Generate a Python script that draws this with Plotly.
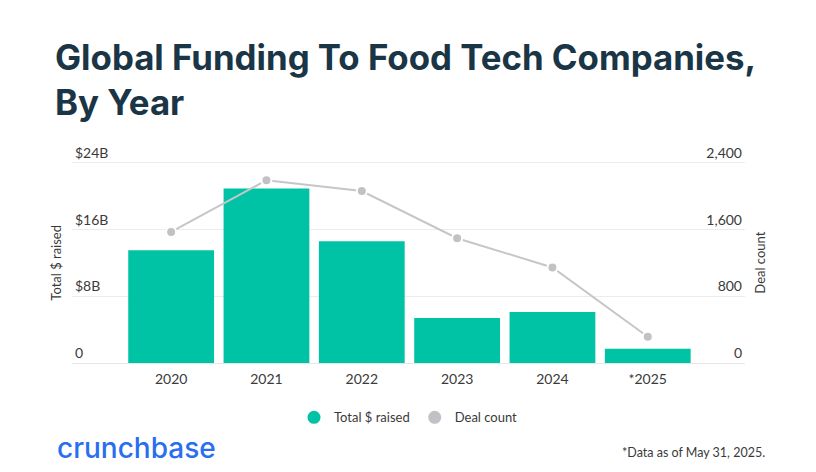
import plotly.graph_objects as go

years = ["2020", "2021", "2022", "2023", "2024", "*2025"]
raised_b = [13.5, 20.9, 14.6, 5.4, 6.1, 1.7]
deal_count = [1570, 2190, 2060, 1495, 1145, 315]

teal = "#00c3a5"
grey = "#c0c2c5"
navy = "#1a3545"
text_grey = "#3a3a3a"
tick_font = dict(family="Lato", size=14, color=text_grey)

# the page body has an 8px margin, so the figure is drawn 8px smaller
W, H = 808, 464
fig = go.Figure()
fig.add_trace(go.Bar(
    x=years, y=raised_b, name="Total $ raised", showlegend=False,
    marker=dict(color=teal, line=dict(width=0)),
    hovertemplate="%{x}: $%{y}B<extra></extra>",
))
fig.add_trace(go.Scatter(
    x=years, y=deal_count, name="Deal count", yaxis="y2", showlegend=False,
    mode="lines+markers",
    line=dict(color="#c6c6c6", width=2),
    marker=dict(color=grey, size=10, line=dict(color="white", width=2)),
))
# legend entries drawn as round dots
fig.add_trace(go.Scatter(
    x=[None], y=[None], name="Total $ raised", mode="markers",
    marker=dict(color=teal, size=13),
))
fig.add_trace(go.Scatter(
    x=[None], y=[None], name="Deal count", mode="markers",
    marker=dict(color=grey, size=13),
))

fig.update_layout(
    width=W, height=H,
    paper_bgcolor="white", plot_bgcolor="white",
    margin=dict(l=64, r=71, t=133, b=109),
    bargap=0.1,
    title=dict(
        text="Global Funding To Food Tech Companies,<br>By Year",
        x=47 / W, xanchor="left", y=1 - 62 / H, yanchor="top",
        font=dict(family="Inter", size=34.8, color=navy, weight="bold"),
    ),
    xaxis=dict(
        range=[-1.04, 6.02], showgrid=False, showline=True,
        linecolor="#e6e6e6", linewidth=1, ticks="",
        tickfont=tick_font, ticklabelstandoff=3,
    ),
    yaxis=dict(
        range=[0, 26.6], tickvals=[0, 8, 16, 24],
        ticktext=["0", "$8B", "$16B", "$24B"],
        ticklabelposition="inside top", tickfont=tick_font,
        gridcolor="#ececec", zeroline=False,
    ),
    yaxis2=dict(
        overlaying="y", side="right",
        range=[0, 2660], tickvals=[0, 800, 1600, 2400],
        ticktext=["0", "800", "1,600", "2,400"],
        ticklabelposition="inside top", tickfont=tick_font,
        showgrid=False, zeroline=False,
    ),
    legend=dict(
        orientation="h", x=0.5, xanchor="center", y=-0.245, yanchor="middle",
        font=dict(family="Lato", size=13, color=text_grey),
    ),
)

# axis titles, centred on the 0..24 gridline span
fig.add_annotation(
    text="Total $ raised", xref="paper", yref="y",
    x=-0.024, xanchor="center", y=12, yanchor="middle", textangle=-90,
    showarrow=False, font=dict(family="Lato", size=13, color=text_grey),
)
fig.add_annotation(
    text="Deal count", xref="paper", yref="y",
    x=1.022, xanchor="center", y=12, yanchor="middle", textangle=-90,
    showarrow=False, font=dict(family="Lato", size=13, color=text_grey),
)
fig.add_annotation(
    text="crunchbase", xref="paper", yref="paper",
    x=-0.025, xanchor="left", y=-0.385, yanchor="middle",
    showarrow=False,
    font=dict(family="Inter", size=28, color="#2a6ef0", weight=500),
)
fig.add_annotation(
    text="*Data as of May 31, 2025.", xref="paper", yref="paper",
    x=1.033, xanchor="right", y=-0.405, yanchor="middle",
    showarrow=False,
    font=dict(family="Lato", size=12.5, color=text_grey),
)

fig.write_html("out.html")
